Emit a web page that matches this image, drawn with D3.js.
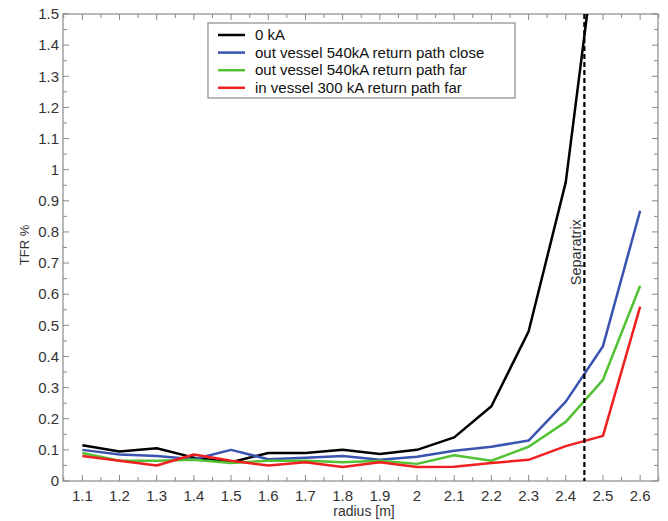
<!DOCTYPE html>
<html>
<head>
<meta charset="utf-8">
<script src="https://cdn.jsdelivr.net/npm/d3@7"></script>
<style>
  body { margin: 0; background: #fff; }
  text { font-family: "Liberation Sans", Arial, sans-serif; }
</style>
</head>
<body>
<div id="chart"></div>
<script>
// data
const radius = [1.1, 1.2, 1.3, 1.4, 1.5, 1.6, 1.7, 1.8, 1.9, 2.0, 2.1, 2.2, 2.3, 2.4, 2.5, 2.6];
const tfr0kA = [0.115, 0.095, 0.105, 0.075, 0.06, 0.09, 0.09, 0.1, 0.087, 0.1, 0.14, 0.24, 0.48, 0.96, 1.9, 3.5];
const outClose = [0.1, 0.085, 0.08, 0.07, 0.1, 0.07, 0.075, 0.08, 0.068, 0.078, 0.097, 0.11, 0.13, 0.255, 0.433, 0.868];
const outFar = [0.09, 0.065, 0.065, 0.068, 0.058, 0.065, 0.065, 0.06, 0.065, 0.055, 0.083, 0.065, 0.11, 0.19, 0.325, 0.627];
const inFar = [0.08, 0.065, 0.05, 0.085, 0.065, 0.05, 0.06, 0.045, 0.06, 0.045, 0.046, 0.058, 0.068, 0.112, 0.145, 0.56];
const seriesNames = ["0 kA", "out vessel 540kA return path close", "out vessel 540kA return path far", "in vessel 300 kA return path far"];
const seriesColors = ["#000000", "#3a52b0", "#52c234", "#f02020"];
const xTicks = [1.1, 1.2, 1.3, 1.4, 1.5, 1.6, 1.7, 1.8, 1.9, 2.0, 2.1, 2.2, 2.3, 2.4, 2.5, 2.6];
const yTicks = [0, 0.1, 0.2, 0.3, 0.4, 0.5, 0.6, 0.7, 0.8, 0.9, 1, 1.1, 1.2, 1.3, 1.4, 1.5];
const separatrix = 2.45;

const margin = { top: 14, right: 10, bottom: 40, left: 63 },
  width = 668 - margin.left - margin.right,
  height = 521 - margin.top - margin.bottom;

const svg = d3.select("#chart")
  .append("svg")
  .attr("width", 668)
  .attr("height", 521);

const g = svg.append("g")
  .attr("transform", `translate(${margin.left},${margin.top})`);

const x = d3.scaleLinear().domain([1.048, 2.648]).range([0, width]);
const y = d3.scaleLinear().domain([0, 1.5]).range([height, 0]);

const axisColor = "#8a8a8a";
const fmt = d => String(+d.toFixed(1));

// minor ticks every 0.05
const xMinor = d3.range(1.05, 2.651, 0.05).map(d => +d.toFixed(2));
const yMinor = d3.range(0, 1.501, 0.05).map(d => +d.toFixed(2));

// frame
g.append("rect")
  .attr("width", width)
  .attr("height", height)
  .attr("fill", "none")
  .attr("stroke", axisColor)
  .attr("stroke-width", 1.2);

// ticks, inward, on all four sides
const ticks = g.append("g").attr("stroke", axisColor).attr("stroke-width", 1);
xMinor.forEach(v => {
  const major = xTicks.some(t => Math.abs(t - v) < 1e-6);
  const len = major ? 6 : 4;
  ticks.append("line").attr("x1", x(v)).attr("x2", x(v)).attr("y1", height).attr("y2", height - len);
  ticks.append("line").attr("x1", x(v)).attr("x2", x(v)).attr("y1", 0).attr("y2", len);
});
yMinor.forEach(v => {
  const major = yTicks.some(t => Math.abs(t - v) < 1e-6);
  const len = major ? 6 : 4;
  ticks.append("line").attr("y1", y(v)).attr("y2", y(v)).attr("x1", 0).attr("x2", len);
  ticks.append("line").attr("y1", y(v)).attr("y2", y(v)).attr("x1", width).attr("x2", width - len);
});

// tick labels
g.append("g").selectAll("text")
  .data(xTicks)
  .join("text")
  .attr("x", d => x(d))
  .attr("y", height + 20)
  .attr("text-anchor", "middle")
  .attr("font-size", 15)
  .attr("fill", "#333")
  .text(fmt);

g.append("g").selectAll("text")
  .data(yTicks)
  .join("text")
  .attr("x", -4)
  .attr("y", d => y(d))
  .attr("dy", "0.35em")
  .attr("text-anchor", "end")
  .attr("font-size", 15)
  .attr("fill", "#333")
  .text(fmt);

// axis titles
svg.append("text")
  .attr("x", 364)
  .attr("y", 516)
  .attr("text-anchor", "middle")
  .attr("font-size", 14)
  .attr("fill", "#333")
  .text("radius [m]");

svg.append("text")
  .attr("transform", "translate(29, 245) rotate(-90)")
  .attr("text-anchor", "middle")
  .attr("font-size", 13)
  .attr("fill", "#333")
  .text("TFR %");

// clip for lines going off the top
svg.append("clipPath").attr("id", "plot")
  .append("rect").attr("width", width).attr("height", height);

const lines = g.append("g").attr("clip-path", "url(#plot)");
const line = d3.line()
  .x((d, i) => x(radius[i]))
  .y(d => y(d));

[tfr0kA, outClose, outFar, inFar].forEach((s, i) => {
  lines.append("path")
    .datum(s)
    .attr("fill", "none")
    .attr("stroke", seriesColors[i])
    .attr("stroke-width", 2.5)
    .attr("stroke-linejoin", "round")
    .attr("d", line);
});

// separatrix
g.append("line")
  .attr("x1", x(separatrix))
  .attr("x2", x(separatrix))
  .attr("y1", 0)
  .attr("y2", height)
  .attr("stroke", "#000")
  .attr("stroke-width", 2.2)
  .attr("stroke-dasharray", "5,3");

g.append("text")
  .attr("transform", `translate(${x(separatrix) - 3}, ${y(0.735)}) rotate(-90)`)
  .attr("text-anchor", "middle")
  .attr("font-size", 14.5)
  .attr("fill", "#333")
  .text("Separatrix");

// legend
const legend = svg.append("g").attr("transform", "translate(208, 23)");
legend.append("rect")
  .attr("width", 307)
  .attr("height", 75)
  .attr("fill", "#fff")
  .attr("stroke", axisColor)
  .attr("stroke-width", 1.2);
seriesNames.forEach((name, i) => {
  const yy = 12 + i * 17.6;
  legend.append("line")
    .attr("x1", 10).attr("x2", 37)
    .attr("y1", yy).attr("y2", yy)
    .attr("stroke", seriesColors[i])
    .attr("stroke-width", 2.5);
  legend.append("text")
    .attr("x", 47)
    .attr("y", yy)
    .attr("dy", "0.35em")
    .attr("font-size", 15)
    .attr("fill", "#111")
    .text(name);
});
</script>
</body>
</html>
